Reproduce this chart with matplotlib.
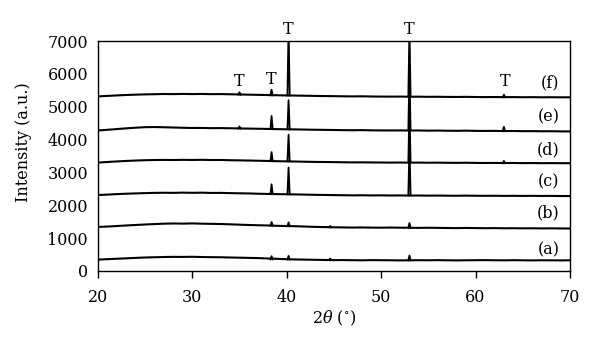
import numpy as np
import matplotlib.pyplot as plt

plt.rcParams['font.family'] = ['DejaVu Serif']
plt.rcParams['mathtext.fontset'] = 'dejavuserif'

# background read at 1-degree steps from 20 to 70
two_theta = np.arange(20, 71, 1)

bg_a = [345, 360, 372, 385, 398, 410, 418, 425, 430, 428, 432, 425, 420, 418, 410, 405,
        398, 392, 380, 370, 358, 350, 345, 340, 335, 330, 332, 328, 325, 330, 328, 326,
        322, 325, 328, 326, 330, 325, 322, 326, 328, 330, 326, 324, 328, 325, 322, 326,
        324, 322, 325]
bg_b = [1340, 1352, 1368, 1385, 1400, 1415, 1428, 1440, 1446, 1442, 1448, 1440, 1435, 1430, 1420, 1410,
        1400, 1392, 1385, 1375, 1368, 1362, 1352, 1342, 1336, 1330, 1326, 1322, 1325, 1320, 1318, 1322,
        1318, 1315, 1312, 1316, 1312, 1308, 1305, 1310, 1306, 1302, 1305, 1300, 1302, 1298, 1300, 1296,
        1298, 1295, 1293]
bg_c = [2312, 2325, 2340, 2352, 2362, 2370, 2378, 2382, 2378, 2385, 2380, 2384, 2376, 2378, 2370, 2365,
        2360, 2352, 2345, 2340, 2336, 2330, 2325, 2318, 2315, 2310, 2306, 2302, 2305, 2300, 2302, 2298,
        2300, 2296, 2298, 2294, 2296, 2292, 2290, 2294, 2290, 2288, 2290, 2286, 2288, 2285, 2287, 2284,
        2286, 2282, 2281]
bg_d = [3300, 3318, 3335, 3350, 3362, 3372, 3378, 3382, 3378, 3384, 3380, 3385, 3378, 3380, 3372, 3368,
        3362, 3356, 3350, 3342, 3338, 3332, 3326, 3320, 3318, 3314, 3310, 3306, 3308, 3304, 3302, 3300,
        3302, 3298, 3300, 3296, 3298, 3294, 3292, 3295, 3290, 3288, 3290, 3286, 3288, 3284, 3286, 3282,
        3284, 3282, 3281]
bg_e = [4278, 4298, 4320, 4342, 4362, 4378, 4382, 4376, 4368, 4360, 4354, 4355, 4348, 4350, 4345, 4340,
        4335, 4330, 4325, 4318, 4314, 4310, 4305, 4300, 4296, 4292, 4288, 4285, 4288, 4282, 4280, 4278,
        4280, 4276, 4278, 4272, 4275, 4270, 4268, 4272, 4266, 4264, 4266, 4260, 4262, 4256, 4258, 4254,
        4255, 4250, 4248]
bg_f = [5315, 5330, 5345, 5358, 5368, 5376, 5382, 5388, 5385, 5391, 5386, 5390, 5384, 5386, 5380, 5375,
        5368, 5362, 5356, 5350, 5345, 5340, 5335, 5330, 5326, 5322, 5318, 5315, 5318, 5312, 5310, 5308,
        5310, 5305, 5307, 5302, 5304, 5300, 5298, 5302, 5296, 5294, 5296, 5292, 5294, 5290, 5292, 5288,
        5290, 5288, 5287]

# peaks: position, local base, top
pk_pos_a = [38.4, 40.2, 44.6, 53.0]
pk_base_a = [352, 350, 335, 325]
pk_top_a = [450, 460, 380, 470]
pk_pos_b = [38.4, 40.2, 44.6, 53.0]
pk_base_b = [1380, 1370, 1330, 1320]
pk_top_b = [1490, 1480, 1370, 1460]
pk_pos_c = [38.4, 40.2, 53.0]
pk_base_c = [2340, 2336, 2302]
pk_top_c = [2640, 3150, 3850]
pk_pos_d = [38.4, 40.2, 53.0, 63.0]
pk_base_d = [3345, 3340, 3304, 3288]
pk_top_d = [3620, 4150, 5000, 3350]
pk_pos_e = [35.0, 38.4, 40.2, 53.0, 63.0]
pk_base_e = [4335, 4322, 4314, 4282, 4262]
pk_top_e = [4400, 4720, 5200, 6100, 4390]
pk_pos_f = [35.0, 38.4, 40.2, 53.0, 63.0]
pk_base_f = [5368, 5350, 5345, 5312, 5292]
pk_top_f = [5440, 5520, 7400, 7400, 5370]

backgrounds = [bg_a, bg_b, bg_c, bg_d, bg_e, bg_f]
peaks = [(pk_pos_a, pk_base_a, pk_top_a), (pk_pos_b, pk_base_b, pk_top_b),
         (pk_pos_c, pk_base_c, pk_top_c), (pk_pos_d, pk_base_d, pk_top_d),
         (pk_pos_e, pk_base_e, pk_top_e), (pk_pos_f, pk_base_f, pk_top_f)]

series_labels = ['(a)', '(b)', '(c)', '(d)', '(e)', '(f)']
label_y = [630, 1760, 2720, 3690, 4690, 5730]

t_pos = [35.0, 38.4, 40.2, 53.0, 63.1]
t_y = [5770, 5830, 7360, 7360, 5770]

fig = plt.figure(figsize=(6, 3.51), dpi=100)
ax = fig.add_axes([0.163, 0.228, 0.787, 0.655])

for bg, (pos, base, top), lab, ly in zip(backgrounds, peaks, series_labels, label_y):
    ax.plot(two_theta, bg, color='black', lw=1.5)
    for p, b, t in zip(pos, base, top):
        ax.plot([p - 0.12, p, p + 0.12], [b, t, b], color='black', lw=1.3)
    ax.text(68.9, ly, lab, ha='right', va='center', fontsize=11.5)

for x, y in zip(t_pos, t_y):
    ax.text(x, y, 'T', ha='center', va='center', fontsize=11.5, clip_on=False)

ax.set_xlim(20, 70)
ax.set_ylim(0, 7000)
ax.set_xticks([20, 30, 40, 50, 60, 70])
ax.set_yticks(range(0, 7001, 1000))
ax.tick_params(axis='x', direction='out', length=5, width=1, pad=8, labelsize=11.5)
ax.tick_params(axis='y', length=0, pad=7, labelsize=11.5)
for s in ax.spines.values():
    s.set_linewidth(1)

ax.set_xlabel(r'2$\mathit{\theta}$ ($^{\circ}$)', fontsize=11.5)
ax.xaxis.set_label_coords(0.5, -0.165)
ax.set_ylabel('Intensity (a.u.)', fontsize=11.5)
ax.yaxis.set_label_coords(-0.14, 0.56)

fig.savefig('out.png', dpi=100)
